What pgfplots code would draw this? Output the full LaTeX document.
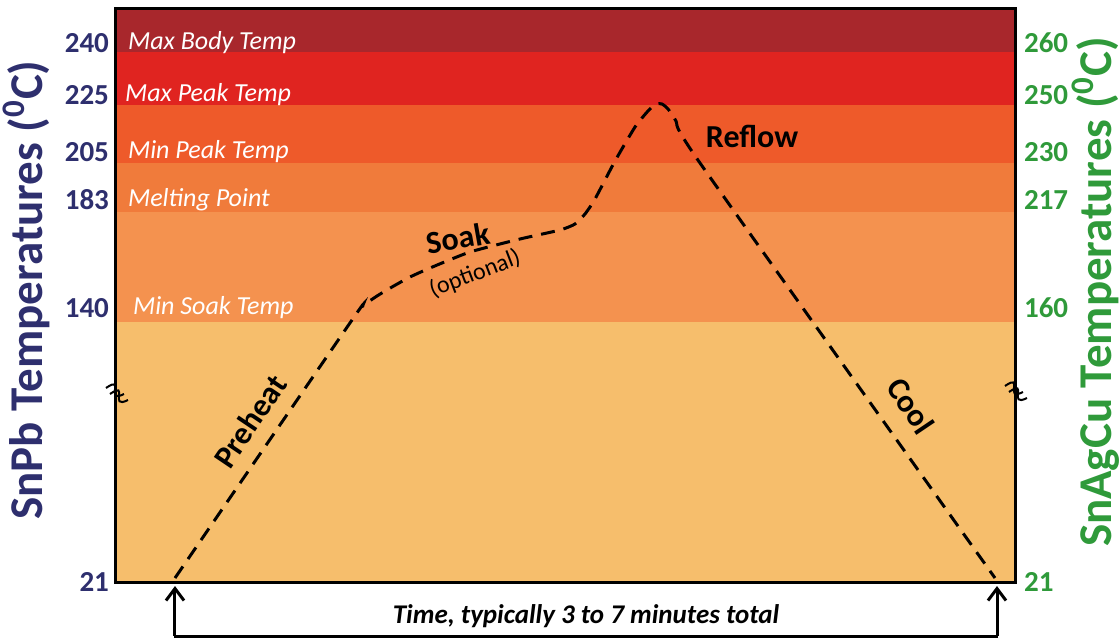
\documentclass[border=0pt]{standalone}
\usepackage{fontspec}
\setmainfont{Carlito}
\usepackage{pgfplots}
\pgfplotsset{compat=1.18}
\usetikzlibrary{arrows.meta}
\definecolor{bandA}{HTML}{A8272C}
\definecolor{bandB}{HTML}{E02420}
\definecolor{bandC}{HTML}{EE5A2A}
\definecolor{bandD}{HTML}{F07B3B}
\definecolor{bandE}{HTML}{F4924F}
\definecolor{bandF}{HTML}{F6BE6C}
\definecolor{navy}{HTML}{2E2F6E}
\definecolor{grn}{HTML}{2F9A3A}
\begin{document}
\begin{tikzpicture}
\begin{axis}[
  scale only axis, width=449.5pt, height=287pt,
  xmin=116, xmax=1015, ymin=8, ymax=582, y dir=reverse,
  clip=false, axis on top,
  axis line style={line width=1.5pt, black},
  xtick=\empty,
  ytick={43,95,152,200,308,582},
  yticklabels={240,225,205,183,140,21},
  major tick length=0pt,
  /pgf/number format/assume math mode=true,
  yticklabel style={font=\fontsize{14.5}{14.5}\selectfont\bfseries, text=navy, anchor=east, xshift=0pt},
]
% temperature bands (pixel rows)
\addplot[fill=bandA, draw=none] coordinates {(116,8) (1015,8) (1015,52) (116,52)} -- cycle;
\addplot[fill=bandB, draw=none] coordinates {(116,52) (1015,52) (1015,105) (116,105)} -- cycle;
\addplot[fill=bandC, draw=none] coordinates {(116,105) (1015,105) (1015,163) (116,163)} -- cycle;
\addplot[fill=bandD, draw=none] coordinates {(116,163) (1015,163) (1015,212) (116,212)} -- cycle;
\addplot[fill=bandE, draw=none] coordinates {(116,212) (1015,212) (1015,322) (116,322)} -- cycle;
\addplot[fill=bandF, draw=none] coordinates {(116,322) (1015,322) (1015,582) (116,582)} -- cycle;
% reflow profile
\addplot[black, line width=1.5pt, dash pattern=on 7pt off 4.5pt, smooth, tension=0.35] coordinates {
 (175,578) (352,320) (363,306) (377,296) (392,287) (410,277) (430,268) (470,252)
 (520,239) (560,230) (575,224) (585,214) (595,199) (615,161) (635,127) (648,111)
 (656,104) (662,104) (668,109) (676,121) (700,163) (995,578)};
% band labels
\begin{scope}[every node/.style={font=\fontsize{13}{13}\selectfont\itshape, text=white, anchor=west}]
\node at (axis cs:121,43) {Max Body Temp};
\node at (axis cs:118,95) {Max Peak Temp};
\node at (axis cs:121,152) {Min Peak Temp};
\node at (axis cs:121,200) {Melting Point};
\node at (axis cs:126,308) {Min Soak Temp};
\end{scope}
% phase labels
\node[font=\fontsize{16}{16}\selectfont\bfseries, rotate=56] at (axis cs:250,421) {Preheat};
\node[font=\fontsize{16}{16}\selectfont\bfseries, rotate=10] at (axis cs:458,238) {Soak};
\node[font=\fontsize{12}{12}\selectfont, rotate=21] at (axis cs:475,274) {(optional)};
\node[font=\fontsize{16}{16}\selectfont\bfseries] at (axis cs:752,136) {Reflow};
\node[font=\fontsize{16}{16}\selectfont\bfseries, rotate=-56] at (axis cs:911,406) {Cool};
% axis titles
\node[font=\fontsize{23.5}{23.5}\selectfont\bfseries, text=navy, rotate=90] at (axis cs:26,290) {SnPb Temperatures (\textsuperscript{0}C)};
\node[font=\fontsize{23.5}{23.5}\selectfont\bfseries, text=grn, rotate=90] at (axis cs:1096,292) {SnAgCu Temperatures (\textsuperscript{0}C)};
% axis break marks
\draw[line width=1pt] (axis cs:106,388) .. controls (axis cs:126,374) and (axis cs:104,404) .. (axis cs:124,394);
\draw[line width=1pt] (axis cs:110,394) .. controls (axis cs:130,380) and (axis cs:108,410) .. (axis cs:128,400);
\draw[line width=1pt] (axis cs:1005,386) .. controls (axis cs:1025,372) and (axis cs:1003,402) .. (axis cs:1023,392);
\draw[line width=1pt] (axis cs:1009,392) .. controls (axis cs:1029,378) and (axis cs:1007,408) .. (axis cs:1027,398);
% time arrows
\draw[line width=1.5pt, -{Straight Barb[length=6pt,width=9pt]}] (axis cs:175,636) -- (axis cs:175,586);
\draw[line width=1.5pt, -{Straight Barb[length=6pt,width=9pt]}] (axis cs:997,636) -- (axis cs:997,586);
\draw[line width=1.5pt] (axis cs:174,636) -- (axis cs:998,636);
\node[font=\fontsize{13.5}{13.5}\selectfont\bfseries\itshape] at (axis cs:586,616) {Time, typically 3 to 7 minutes total};
\coordinate (bbA) at (axis cs:0,638);
\coordinate (bbB) at (axis cs:1119,0);
\end{axis}
\begin{axis}[
  scale only axis, width=449.5pt, height=287pt,
  xmin=116, xmax=1015, ymin=8, ymax=582, y dir=reverse,
  axis x line=none, axis y line*=right,
  axis line style={draw=none},
  ytick={43,95,152,200,308,582},
  yticklabels={260,250,230,217,160,21},
  major tick length=0pt,
  /pgf/number format/assume math mode=true,
  yticklabel style={font=\fontsize{14.5}{14.5}\selectfont\bfseries, text=grn, anchor=west, xshift=1pt},
]
\addplot[draw=none] coordinates {(116,8) (1015,582)};
\end{axis}
\pgfresetboundingbox
\path[use as bounding box] (bbA) rectangle (bbB);
\end{tikzpicture}
\end{document}
